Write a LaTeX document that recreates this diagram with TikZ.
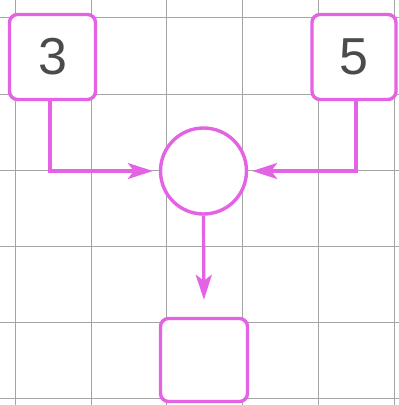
\documentclass[tikz,border=0pt]{standalone}
\usepackage{fontspec}
\setmainfont{Liberation Sans}
\usetikzlibrary{arrows.meta}
\definecolor{mag}{RGB}{228,98,228}
\definecolor{gridc}{RGB}{165,165,165}
\definecolor{numc}{RGB}{75,75,75}
\tikzset{
  numbox/.style={draw=mag, line width=3.4pt, fill=white, rounded corners=8pt, font=\fontsize{52}{52}\selectfont, text=numc, inner sep=0pt},
  opcircle/.style={draw=mag, line width=3.4pt, fill=white, circle, inner sep=0pt, minimum size=86pt},
  conn/.style={draw=mag, line width=3.2pt, -{Stealth[length=25pt, width=16pt, inset=6pt]}},
  gridline/.style={draw=gridc, line width=0.9pt}
}
\begin{document}
\begin{tikzpicture}[x=1pt,y=-1pt]
\useasboundingbox (0,0) rectangle (399,405);
\fill[white] (0,0) rectangle (399,405);
% grid
\foreach \gx in {15,91,166.5,242,318,394}
  \draw[gridline] (\gx,0) -- (\gx,405);
\foreach \gy in {17,94,170,246,322,398}
  \draw[gridline] (0,\gy) -- (399,\gy);
% nodes
\node[numbox, minimum width=86pt, minimum height=85pt] (a) at (52.5,57) {3};
\node[numbox, minimum width=84pt, minimum height=85pt] (b) at (354,57) {5};
\node[opcircle] (c) at (203.5,171) {};
\node[numbox, minimum width=87pt, minimum height=83pt] (d) at (204,360) {};
% connectors
\coordinate (aturn) at (50,171);
\coordinate (bturn) at (356,171);
\draw[conn, shorten >=6pt] (a.south -| aturn) -- (aturn) -- (c.west);
\draw[conn, shorten >=4pt] (b.south -| bturn) -- (bturn) -- (c.east);
\draw[conn, shorten >=17pt] (c.south) -- (d.north);
\end{tikzpicture}
\end{document}
